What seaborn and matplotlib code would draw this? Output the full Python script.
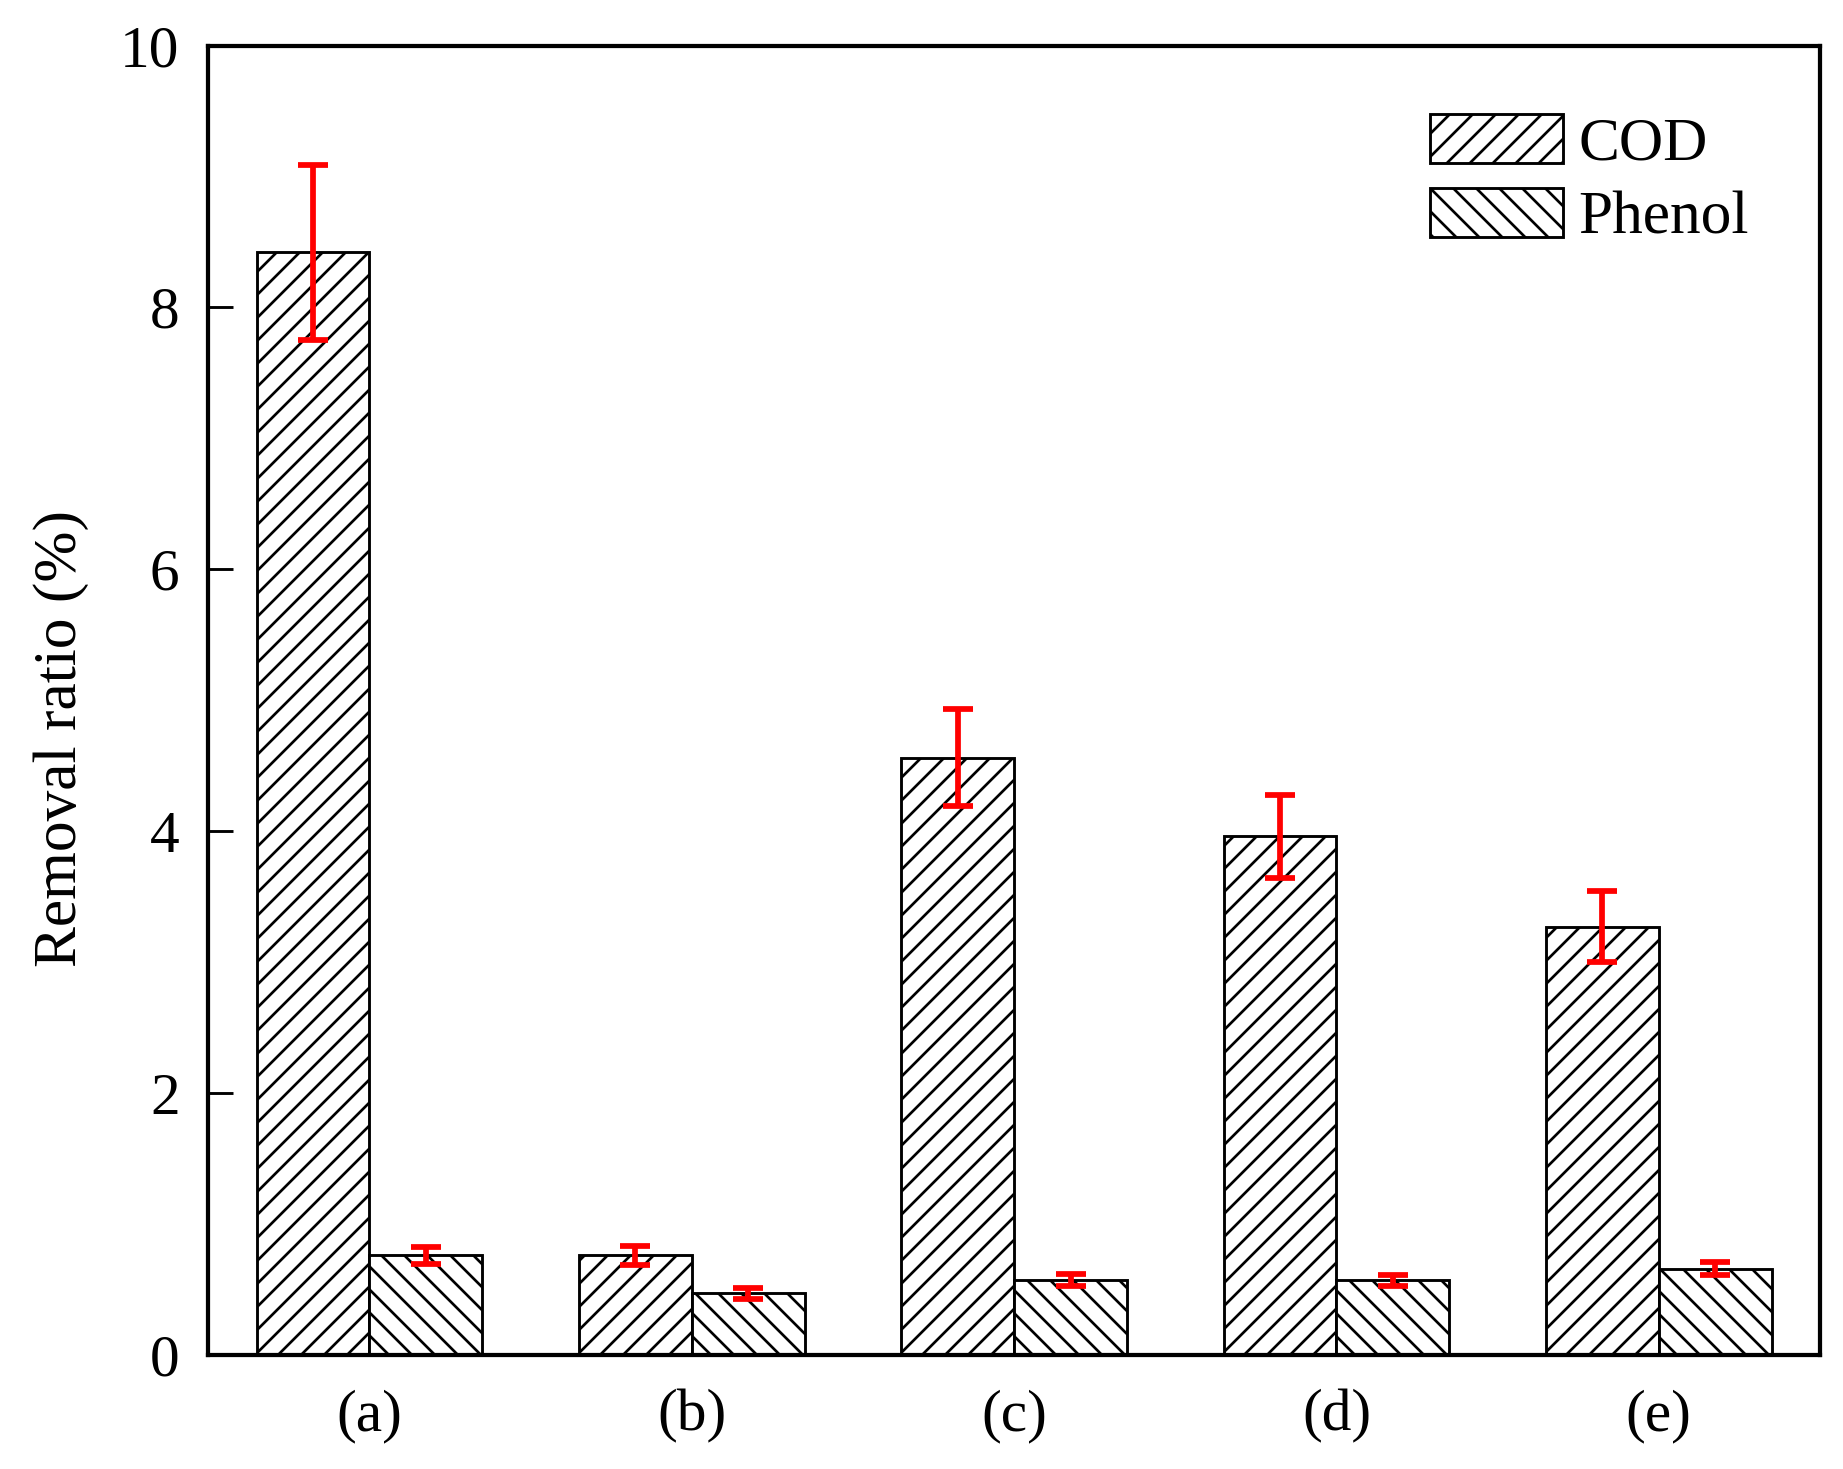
import matplotlib
matplotlib.use("Agg")
import matplotlib.pyplot as plt
import seaborn as sns
import pandas as pd
import numpy as np

# data
samples = ["(a)", "(b)", "(c)", "(d)", "(e)"]
series = ["COD", "Phenol"]
cod = [8.42, 0.76, 4.56, 3.96, 3.27]
cod_err = [0.67, 0.075, 0.37, 0.32, 0.27]
phenol = [0.76, 0.47, 0.57, 0.57, 0.66]
phenol_err = [0.065, 0.04, 0.045, 0.04, 0.05]

df = pd.DataFrame({
    "sample": samples * 2,
    "series": ["COD"] * 5 + ["Phenol"] * 5,
    "value": cod + phenol,
})

sns.set_style("ticks")
plt.rcParams["font.family"] = ["Liberation Serif", "DejaVu Serif"]
plt.rcParams["hatch.linewidth"] = 1.4
plt.rcParams["hatch.color"] = "black"
for k in ["text.color", "axes.labelcolor", "xtick.color", "ytick.color"]:
    plt.rcParams[k] = "black"

DPI = 138
fig = plt.figure(figsize=(1843 / DPI, 1469 / DPI), dpi=DPI)
ax = fig.add_axes([0.113, 0.0776, 0.8745, 0.8914])

sns.barplot(data=df, x="sample", y="value", hue="series", order=samples,
            hue_order=series, palette=["white", "white"], edgecolor="black",
            linewidth=1.5, width=0.7, errorbar=None, legend=False, ax=ax)

hatches = ["//", "\\\\"]
errs = [cod_err, phenol_err]
for cont, h, vals, e in zip(ax.containers, hatches, [cod, phenol], errs):
    xs = []
    for p in cont.patches:
        p.set_hatch(h)
        p.set_facecolor("white")
        p.set_edgecolor("black")
        xs.append(p.get_x() + p.get_width() / 2)
    ax.errorbar(xs, vals, yerr=e, fmt="none", ecolor="#ff0000",
                elinewidth=3, capsize=8, capthick=3, zorder=5)

ax.set_xlim(-0.5, 4.5)
ax.set_ylim(0, 10)
ax.set_yticks([0, 2, 4, 6, 8, 10])
ax.set_xlabel("")
ax.set_ylabel("Removal ratio (%)", fontsize=32)
ax.yaxis.set_label_coords(-0.074, 0.471)

ax.tick_params(axis="y", direction="in", length=13, width=1.5, pad=15,
               labelsize=31)
ax.tick_params(axis="x", length=0, pad=18, labelsize=31)
for s in ax.spines.values():
    s.set_linewidth(2.2)
    s.set_color("black")
    s.set_visible(True)

ax.legend(ax.containers, series, loc="upper left",
          bbox_to_anchor=(0.758, 0.948), frameon=False, fontsize=32,
          handlelength=2.17, handleheight=0.86, handletextpad=0.25,
          labelspacing=0.25, borderpad=0, borderaxespad=0)

fig.savefig("out.png", dpi=DPI)
